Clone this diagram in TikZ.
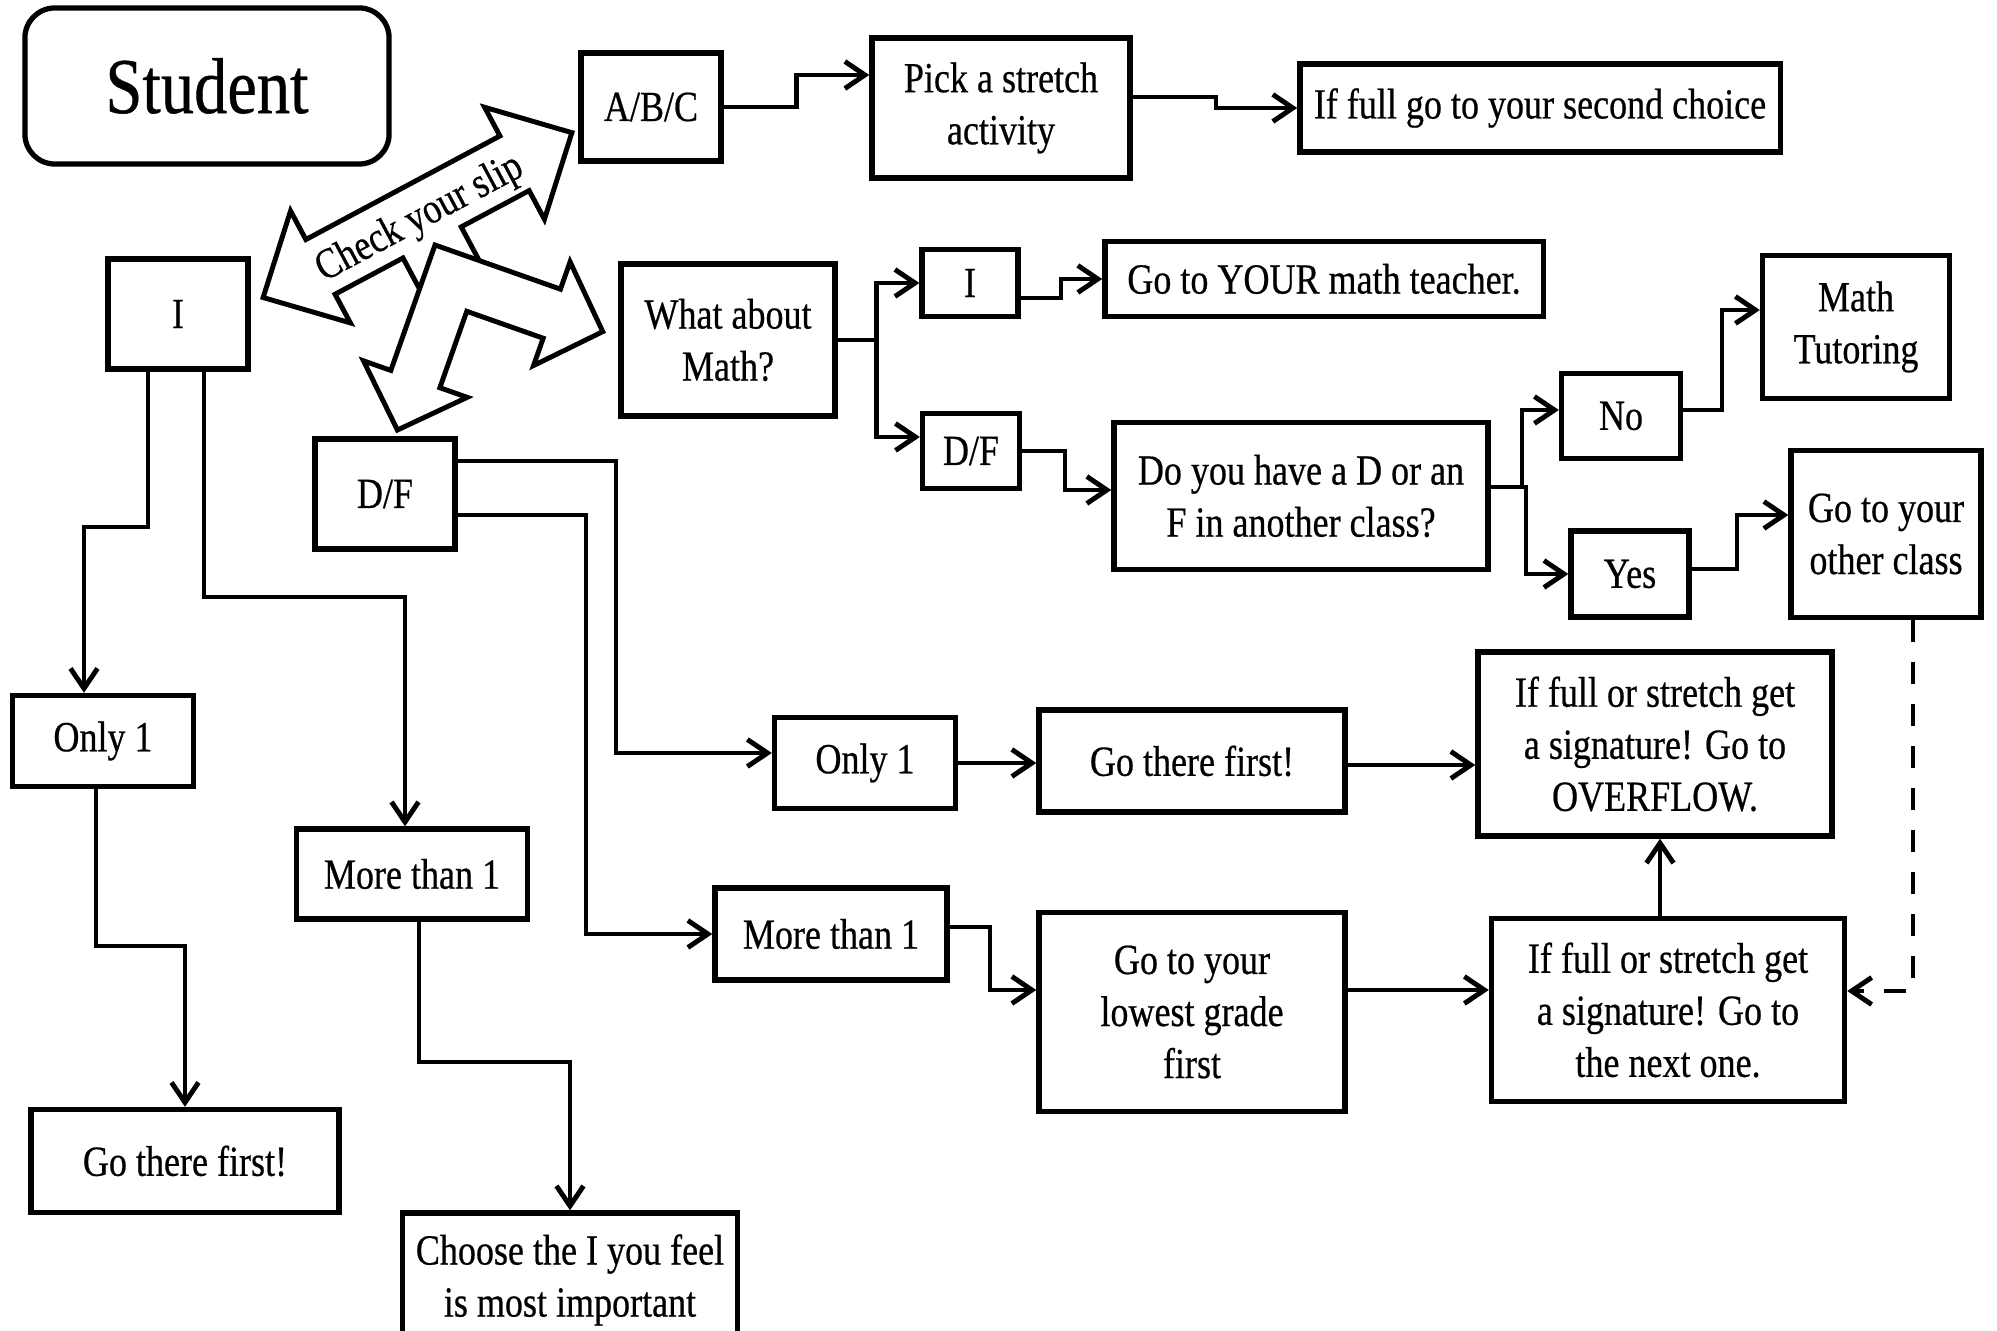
\documentclass[tikz,border=0pt]{standalone}
\usepackage{fontspec}
\setmainfont{Liberation Serif}[FakeStretch=0.84,FakeBold=0.5]
\usetikzlibrary{arrows.meta,calc}
\definecolor{ink}{HTML}{000000}

\begin{document}
\begin{tikzpicture}[x=0.01cm,y=-0.01cm,font=\fontsize{12.2}{14.8}\selectfont,
  box/.style={draw=ink,line width=1.5pt,align=center,inner sep=0pt},
  link/.style={draw=ink,line width=1.4pt,
    -{Straight Barb[length=2mm,width=2.7mm]}},
  dashlink/.style={link,dash pattern=on 2.2mm off 2mm},
  blockarr/.style={draw=ink,fill=white,line width=1.4pt,line join=miter}]
  \useasboundingbox[fill=white] (0,0) rectangle (1997,1331);

  % left column
  \node[box,rounded corners=3mm,minimum width=36.4mm,minimum height=15.6mm,
    font=\fontsize{22.5}{25}\selectfont] (student) at (207,86) {Student};
  \node[box,minimum width=14mm,minimum height=11mm] (ileft) at (178,314) {I};
  \node[box,minimum width=14mm,minimum height=11mm] (dfleft) at (385,494) {D/F};
  \node[box,minimum width=18.1mm,minimum height=9.1mm] (onelft) at (103,741) {Only 1};
  \node[box,minimum width=23.1mm,minimum height=9mm] (morelft) at (412,874) {More than 1};
  \node[box,minimum width=30.8mm,minimum height=10.3mm] (firstlft) at (185,1161)
    {Go there first!};
  \node[box,minimum width=33.5mm,minimum height=13.4mm] (choose) at (570,1280)
    {Choose the I you feel\\is most important};

  % top row
  \node[box,minimum width=14mm,minimum height=10.8mm] (abc) at (651,107) {A/B/C};
  \node[box,minimum width=25.8mm,minimum height=14mm] (stretch) at (1001,108)
    {Pick a stretch\\activity};
  \node[box,minimum width=48mm,minimum height=8.8mm] (second) at (1540,108)
    {If full go to your second choice};

  % math branch
  \node[box,minimum width=21.4mm,minimum height=15.2mm] (mathq) at (728,340)
    {What about\\Math?};
  \node[box,minimum width=9.6mm,minimum height=6.7mm] (imath) at (970,283) {I};
  \node[box,minimum width=43.8mm,minimum height=7.5mm] (teacher) at (1324,279)
    {Go to YOUR math teacher.};
  \node[box,minimum width=9.7mm,minimum height=7.5mm] (dfmath) at (971,451) {D/F};
  \node[box,minimum width=37.4mm,minimum height=14.7mm] (dorf) at (1301,496)
    {Do you have a D or an\\F in another class?};
  \node[box,minimum width=11.9mm,minimum height=8.5mm] (no) at (1621,416) {No};
  \node[box,minimum width=11.8mm,minimum height=8.6mm] (yes) at (1630,574) {Yes};
  \node[box,minimum width=18.7mm,minimum height=14.3mm] (tutor) at (1856,327)
    {Math\\Tutoring};
  \node[box,minimum width=19mm,minimum height=16.7mm] (other) at (1886,534)
    {Go to your\\other class};

  % D/F branch
  \node[box,minimum width=18.1mm,minimum height=9.1mm] (onemid) at (865,763) {Only 1};
  \node[box,minimum width=30.6mm,minimum height=10.2mm] (firstmid) at (1192,761)
    {Go there first!};
  \node[box,minimum width=35.4mm,minimum height=18.4mm] (overflow) at (1655,744)
    {If full or stretch get\\a signature! Go to\\OVERFLOW.};
  \node[box,minimum width=23.2mm,minimum height=9.2mm] (moremid) at (831,934)
    {More than 1};
  \node[box,minimum width=30.6mm,minimum height=19.9mm] (lowest) at (1192,1012)
    {Go to your\\lowest grade\\first};
  \node[box,minimum width=35.3mm,minimum height=18.3mm] (nextone) at (1668,1010)
    {If full or stretch get\\a signature! Go to\\the next one.};

  % connectors
  \draw[link] (abc.east) -- ++(73,0) |- (stretch.west |- 0,75);
  \draw[link] (stretch.east |- 0,97) -- (1216,97) |- (second.west);
  \draw[link] (mathq.east) -- ++(39,0) |- (imath.west);
  \draw[link] (mathq.east) -- ++(39,0) |- (dfmath.west |- 0,437);
  \draw[link] (imath.east |- 0,298) -- (1061,298) |- (teacher.west);
  \draw[link] (dfmath.east) -- (1065,451) |- (dorf.west |- 0,490);
  \draw[link] (dorf.east |- 0,487) -- (1522,487) |- (no.west |- 0,410);
  \draw[link] (dorf.east |- 0,487) -- (1526,487) |- (yes.west);
  \draw[link] (no.east |- 0,410) -- (1722,410) |- (tutor.west |- 0,310);
  \draw[link] (yes.east |- 0,569) -- (1737,569) |- (other.west |- 0,515);
  \draw[dashlink] (other.south -| 1913,0) |- (nextone.east |- 0,991);
  \draw[link] (dfleft.east |- 0,461) -- (616,461) |- (onemid.west |- 0,753);
  \draw[link] (dfleft.east |- 0,515) -- (586,515) |- (moremid.west);
  \draw[link] (onemid.east) -- (firstmid.west |- onemid.east);
  \draw[link] (firstmid.east |- 0,765) -- (overflow.west |- 0,765);
  \draw[link] (moremid.east |- 0,927) -- (990,927) |- (lowest.west |- 0,990);
  \draw[link] (lowest.east |- 0,990) -- (nextone.west |- 0,990);
  \draw[link] (nextone.north -| 1660,0) -- (overflow.south -| 1660,0);
  \draw[link] (ileft.south -| 148,0) -- (148,527) -| (onelft.north -| 84,0);
  \draw[link] (ileft.south -| 204,0) -- (204,597) -| (morelft.north -| 405,0);
  \draw[link] (onelft.south -| 96,0) -- (96,946) -| (firstlft.north);
  \draw[link] (morelft.south -| 419,0) -- (419,1062) -| (choose.north);

  % block arrows
  \begin{scope}[shift={(417.5,215.1)},rotate=28.1]
    \draw[blockarr] (-175,0) -- (-110,-63.5) -- (-110,-31) -- (110,-31)
      -- (110,-63.5) -- (175,0) -- (110,63.5) -- (110,31) -- (33,31)
      -- (33,90) -- (-33,90) -- (-33,31) -- (-110,31) -- (-110,63.5) -- cycle;
  \end{scope}
  \begin{scope}[shift={(435,245)},rotate=-19.4]
    \draw[blockarr] (0,0) -- (133,0) -- (133,-29) -- (187,26) -- (133,81)
      -- (133,52) -- (52,52) -- (52,133) -- (81,133) -- (26,187)
      -- (-29,133) -- (0,133) -- cycle;
  \end{scope}
  \node[rotate=28.1] (slip) at (420,219) {Check your slip};
\end{tikzpicture}
\end{document}
